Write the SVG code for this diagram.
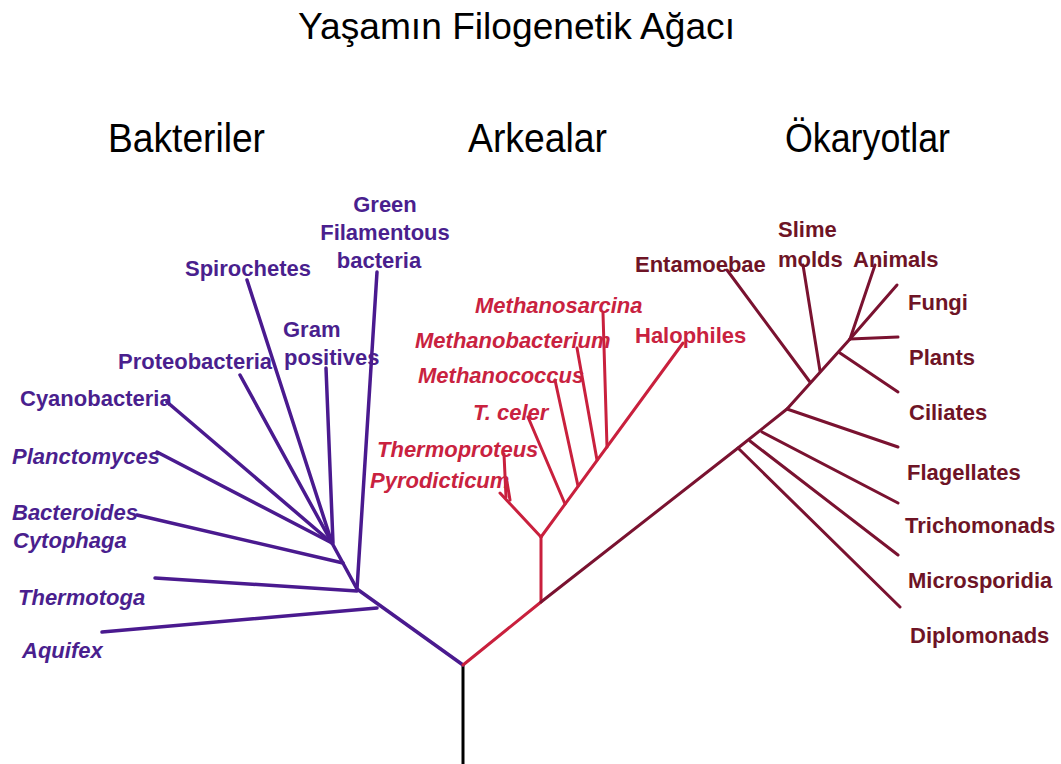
<svg xmlns="http://www.w3.org/2000/svg" width="1061" height="764" viewBox="0 0 1061 764">
<style>
.t{font-family:"Liberation Sans",Arial,sans-serif;fill:#000}
.l{font-family:"Liberation Sans",Arial,sans-serif;font-size:22px;font-weight:bold}
.i{font-style:italic}
.bt{fill:#4a1f8e}
.at{fill:#c9223f}
.et{fill:#6e1426}
.bl{stroke:#4a1a8f;stroke-width:3.5;fill:none;stroke-linecap:round;stroke-linejoin:round}
.al{stroke:#c9203d;stroke-width:3;fill:none;stroke-linecap:round;stroke-linejoin:round}
.el{stroke:#7a1230;stroke-width:3;fill:none;stroke-linecap:round;stroke-linejoin:round}
.rl{stroke:#000;stroke-width:3;fill:none}
</style>
<rect width="1061" height="764" fill="#fff"/>
<g id="title"><text class="t" x="298" y="39" font-size="37" textLength="437" lengthAdjust="spacingAndGlyphs">Yaşamın Filogenetik Ağacı</text></g>
<g id="h-bakteriler"><text class="t" x="108" y="152" font-size="40" textLength="157" lengthAdjust="spacingAndGlyphs">Bakteriler</text></g>
<g id="h-arkealar"><text class="t" x="468" y="152" font-size="40" textLength="139" lengthAdjust="spacingAndGlyphs">Arkealar</text></g>
<g id="h-okaryotlar"><text class="t" x="785" y="152" font-size="40" textLength="165" lengthAdjust="spacingAndGlyphs">Ökaryotlar</text></g>

<g id="connectors">
  <line class="rl" x1="463" y1="665" x2="463" y2="764"/>
  <polyline class="bl" points="332,543 357,589 463,665"/>
  <line class="bl" x1="377" y1="272" x2="357" y2="589"/>
  <line class="bl" x1="326" y1="368" x2="333" y2="543"/>
  <line class="bl" x1="247" y1="280" x2="332" y2="543"/>
  <line class="bl" x1="240" y1="375" x2="332" y2="543"/>
  <line class="bl" x1="167" y1="402" x2="332" y2="543"/>
  <line class="bl" x1="157" y1="452" x2="332" y2="543"/>
  <line class="bl" x1="137" y1="515" x2="343" y2="563"/>
  <line class="bl" x1="155" y1="578" x2="357" y2="591"/>
  <line class="bl" x1="102" y1="632" x2="377" y2="608"/>
  <polyline class="al" points="463,665 541,602 541,537"/>
  <line class="al" x1="541" y1="537" x2="683" y2="343"/>
  <line class="al" x1="541" y1="537" x2="500" y2="493"/>
  <line class="al" x1="504" y1="454" x2="506" y2="497"/>
  <line class="al" x1="507" y1="482" x2="510" y2="500"/>
  <line class="al" x1="528" y1="417" x2="565" y2="504"/>
  <line class="al" x1="555" y1="380" x2="578" y2="486"/>
  <line class="al" x1="577" y1="348" x2="597" y2="460"/>
  <line class="al" x1="603" y1="313" x2="607" y2="447"/>
  <polyline class="el" points="541,602 738,448 787,409 850,339"/>
  <line class="el" x1="738" y1="448" x2="900" y2="607"/>
  <line class="el" x1="750" y1="441" x2="898" y2="555"/>
  <line class="el" x1="762" y1="432" x2="898" y2="503"/>
  <line class="el" x1="787" y1="409" x2="898" y2="447"/>
  <line class="el" x1="840" y1="353" x2="898" y2="392"/>
  <line class="el" x1="850" y1="339" x2="898" y2="337"/>
  <line class="el" x1="850" y1="339" x2="897" y2="285"/>
  <line class="el" x1="850" y1="339" x2="875" y2="265"/>
  <line class="el" x1="820" y1="371" x2="803" y2="265"/>
  <line class="el" x1="810" y1="382" x2="727" y2="270"/>
</g>

<g id="n-green"><text class="l bt" text-anchor="middle" x="385" y="212">Green</text><text class="l bt" text-anchor="middle" x="385" y="240">Filamentous</text><text class="l bt" text-anchor="middle" x="379" y="268">bacteria</text></g>
<g id="n-spirochetes"><text class="l bt" x="185" y="276">Spirochetes</text></g>
<g id="n-gram"><text class="l bt" x="283" y="337">Gram</text><text class="l bt" x="284" y="365">positives</text></g>
<g id="n-proteobacteria"><text class="l bt" x="118" y="369">Proteobacteria</text></g>
<g id="n-cyanobacteria"><text class="l bt" x="20" y="406">Cyanobacteria</text></g>
<g id="n-planctomyces"><text class="l i bt" x="12" y="464">Planctomyces</text></g>
<g id="n-bacteroides"><text class="l i bt" x="12" y="520">Bacteroides</text><text class="l i bt" x="13" y="548">Cytophaga</text></g>
<g id="n-thermotoga"><text class="l i bt" x="18" y="605">Thermotoga</text></g>
<g id="n-aquifex"><text class="l i bt" x="22" y="658">Aquifex</text></g>

<g id="n-methanosarcina"><text class="l i at" x="475" y="313">Methanosarcina</text></g>
<g id="n-methanobacterium"><text class="l i at" x="415" y="348">Methanobacterium</text></g>
<g id="n-halophiles"><text class="l at" x="635" y="343">Halophiles</text></g>
<g id="n-methanococcus"><text class="l i at" x="418" y="383">Methanococcus</text></g>
<g id="n-tceler"><text class="l i at" x="473" y="420">T. celer</text></g>
<g id="n-thermoproteus"><text class="l i at" x="377" y="457">Thermoproteus</text></g>
<g id="n-pyrodicticum"><text class="l i at" x="370" y="488">Pyrodicticum</text></g>

<g id="n-entamoebae"><text class="l et" x="635" y="272">Entamoebae</text></g>
<g id="n-slime"><text class="l et" x="778" y="237">Slime</text><text class="l et" x="778" y="267">molds</text></g>
<g id="n-animals"><text class="l et" x="853" y="267">Animals</text></g>
<g id="n-fungi"><text class="l et" x="908" y="310">Fungi</text></g>
<g id="n-plants"><text class="l et" x="909" y="365">Plants</text></g>
<g id="n-ciliates"><text class="l et" x="909" y="420">Ciliates</text></g>
<g id="n-flagellates"><text class="l et" x="907" y="480">Flagellates</text></g>
<g id="n-trichomonads"><text class="l et" x="905" y="533">Trichomonads</text></g>
<g id="n-microsporidia"><text class="l et" x="908" y="588">Microsporidia</text></g>
<g id="n-diplomonads"><text class="l et" x="910" y="643">Diplomonads</text></g>
</svg>
